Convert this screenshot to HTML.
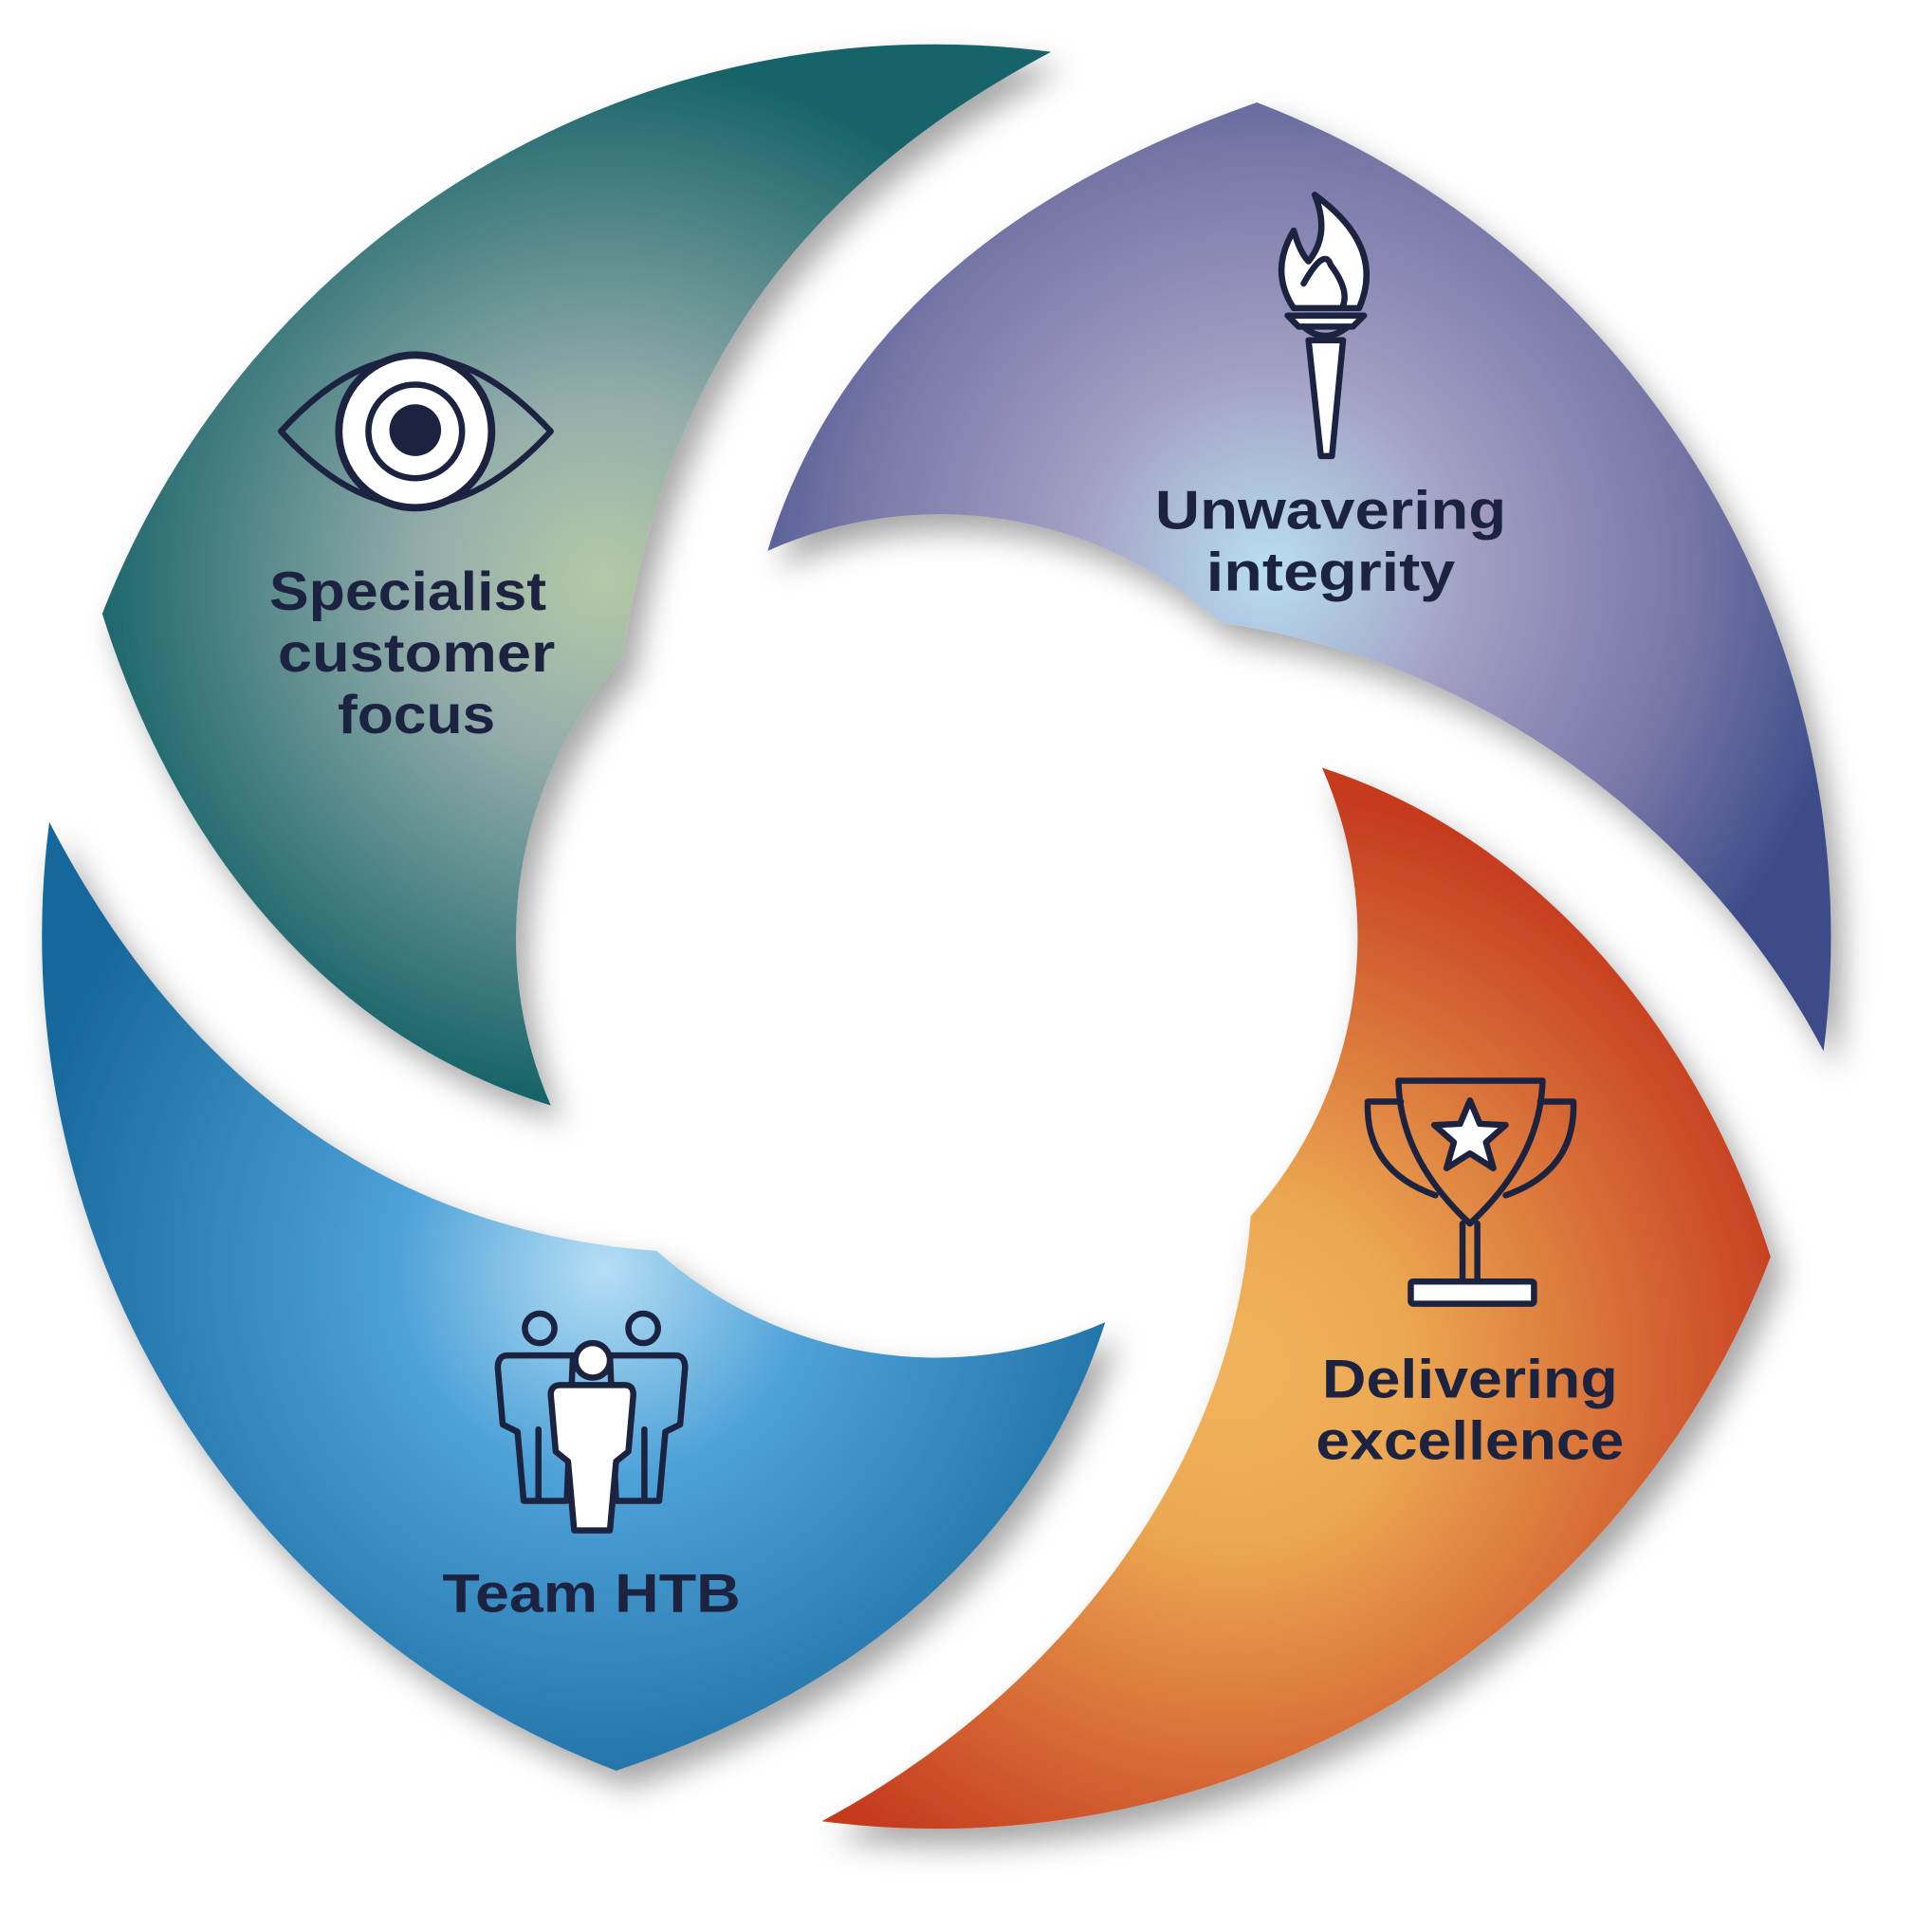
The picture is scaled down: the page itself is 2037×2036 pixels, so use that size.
<!DOCTYPE html>
<html><head><meta charset="utf-8"><style>html,body{margin:0;padding:0;background:#fff}svg{display:block}</style></head>
<body>
<svg width="2037" height="2036" viewBox="0 0 1568 1567" xmlns="http://www.w3.org/2000/svg">
<defs>
<filter id="sh" x="-20%" y="-20%" width="140%" height="140%">
<feDropShadow dx="10" dy="14" stdDeviation="12" flood-color="#000" flood-opacity="0.35"/>
</filter>
<radialGradient id="gT" gradientUnits="userSpaceOnUse" cx="490" cy="470" r="420">
<stop offset="0" stop-color="#b4c9a6"/><stop offset="0.35" stop-color="#94adab"/><stop offset="1" stop-color="#18646a"/></radialGradient>
<radialGradient id="gP" gradientUnits="userSpaceOnUse" cx="1030" cy="460" r="480">
<stop offset="0" stop-color="#b8def2"/><stop offset="0.35" stop-color="#a19dc2"/><stop offset="0.7" stop-color="#7878a8"/><stop offset="1" stop-color="#3c4c88"/></radialGradient>
<radialGradient id="gO" gradientUnits="userSpaceOnUse" cx="1000" cy="1110" r="470">
<stop offset="0" stop-color="#f0b35c"/><stop offset="0.3" stop-color="#eca852"/><stop offset="1" stop-color="#c53a1f"/></radialGradient>
<radialGradient id="gB" gradientUnits="userSpaceOnUse" cx="490" cy="1030" r="480">
<stop offset="0" stop-color="#b6def5"/><stop offset="0.35" stop-color="#4ea2d8"/><stop offset="1" stop-color="#17689c"/></radialGradient>
</defs>
<g filter="url(#sh)">
<path fill="url(#gT)" d="M853,42 A725,725 0 0 0 83,498 C140,680 260,840 447,897 A340,340 0 0 1 505,535 C540,300 650,150 853,42 Z"/>
<path fill="url(#gP)" d="M1020,83 A725,725 0 0 1 1480,853 C1400,700 1230,540 990,505 A340,340 0 0 0 623,447 C680,260 830,150 1020,83 Z"/>
<path fill="url(#gO)" d="M1073,623 C1250,680 1380,840 1437,1020 A725,725 0 0 1 667,1478 C850,1380 1000,1200 1015,987 A340,340 0 0 0 1073,623 Z"/>
<path fill="url(#gB)" d="M40,667 A725,725 0 0 0 500,1437 C700,1370 840,1250 897,1073 A340,340 0 0 1 533,1015 C320,1000 150,880 40,667 Z"/>
</g>
<g font-family="Liberation Sans, sans-serif" font-weight="bold" font-size="44" fill="#1c2340" text-anchor="middle">
<text x="331" y="495" textLength="225" lengthAdjust="spacingAndGlyphs">Specialist</text>
<text x="338" y="545" textLength="225" lengthAdjust="spacingAndGlyphs">customer</text>
<text x="338" y="595" textLength="128" lengthAdjust="spacingAndGlyphs">focus</text>
<text x="1080" y="429" textLength="285" lengthAdjust="spacingAndGlyphs">Unwavering</text>
<text x="1080" y="479" textLength="202" lengthAdjust="spacingAndGlyphs">integrity</text>
<text x="1193" y="1134" textLength="240" lengthAdjust="spacingAndGlyphs">Delivering</text>
<text x="1193" y="1184" textLength="250" lengthAdjust="spacingAndGlyphs">excellence</text>
<text x="480" y="1308" textLength="242" lengthAdjust="spacingAndGlyphs">Team HTB</text>
</g>
<g stroke="#1c2340" stroke-width="5" fill="none" stroke-linejoin="round" stroke-linecap="round">
<path d="M228,350 Q337,230 447,350 Q337,470 228,350 Z"/>
<circle cx="337" cy="350" r="62" fill="#fff" stroke-width="6"/>
<circle cx="337" cy="350" r="38" fill="none"/>
<circle cx="337" cy="349" r="21" fill="#1c2340" stroke="none"/>
<path d="M1067,158 Q1125,200 1103,250 L1050,250 Q1030,220 1050,187 Q1055,205 1062,212 Q1080,190 1067,158 Z" fill="#fff"/>
<path d="M1058,230 Q1075,200 1080,215 Q1095,235 1090,248" />
<path d="M1045,256 L1107,256 L1098,265 L1054,265 Z" fill="#fff"/>
<path d="M1058,265 Q1075,280 1094,265"/>
<path d="M1062,276 L1090,276 L1081,370 L1072,370 Z" fill="#fff"/>
<path d="M1135,877 L1252,877 Q1250,940 1193,993 Q1136,940 1135,877 Z"/>
<path d="M1137,894 L1110,894 Q1108,950 1165,970"/>
<path d="M1250,894 L1277,894 Q1279,950 1222,970"/>
<path d="M1187,993 L1187,1040 M1199,993 L1199,1040"/>
<rect x="1145" y="1040" width="100" height="18" rx="2" fill="#fff"/>
<path d="M1193,893 L1201,912 L1222,913 L1206,927 L1212,948 L1193,936 L1174,948 L1180,927 L1164,913 L1185,912 Z" fill="#fff"/>
<circle cx="438" cy="1078" r="12"/>
<circle cx="522" cy="1078" r="12"/>
<path d="M412,1100 L465,1100 L460,1218 L425,1218 L420,1162 L408,1156 L404,1110 Q404,1100 412,1100 Z"/>
<path d="M548,1100 L495,1100 L500,1218 L535,1218 L540,1162 L552,1156 L556,1110 Q556,1100 548,1100 Z"/>
<path d="M437,1160 L437,1215 M523,1160 L523,1215"/>
<circle cx="481" cy="1104" r="14" fill="#fff"/>
<path d="M455,1124 L507,1124 Q514,1124 514,1132 L510,1178 L500,1186 L495,1242 L466,1242 L461,1186 L451,1178 L447,1132 Q447,1124 455,1124 Z" fill="#fff"/>
</g>
</svg>
</body></html>
